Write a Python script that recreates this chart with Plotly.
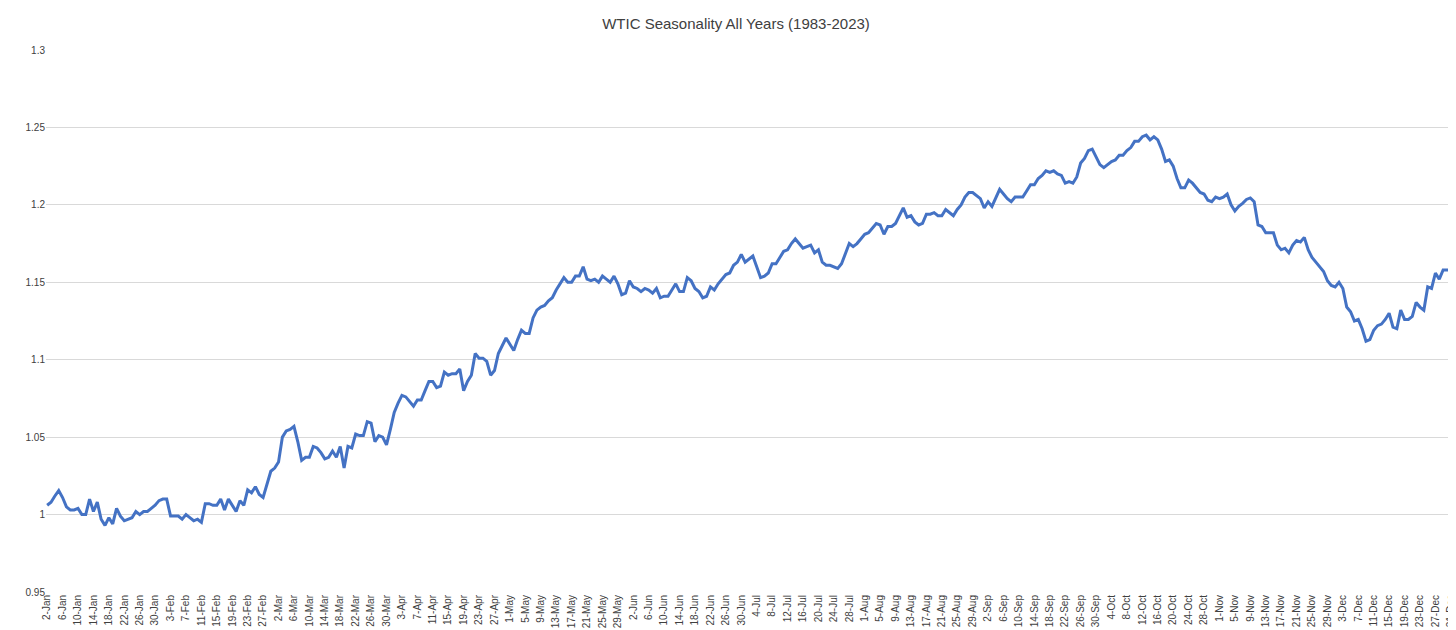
import pandas as pd
import plotly.graph_objects as go

dates = pd.date_range("2024-01-02", "2024-12-31", freq="D")
categories = [f"{d.day}-{d.strftime('%b')}" for d in dates]

values = [
1.006,1.008,1.012,1.0155,1.011,1.005,1.003,1.003,1.004,1.000,
1.000,1.010,1.002,1.008,0.997,0.993,0.998,0.994,1.004,0.999,
0.996,0.997,0.998,1.002,1.000,1.002,1.002,1.004,1.006,1.009,
1.010,1.010,0.999,0.999,0.999,0.997,1.000,0.998,0.996,0.997,
0.995,1.007,1.007,1.006,1.006,1.010,1.003,1.010,1.006,1.002,
1.009,1.006,1.016,1.014,1.018,1.013,1.011,1.019,1.028,1.030,
1.034,1.050,1.054,1.055,1.057,1.047,1.035,1.037,1.037,1.044,
1.043,1.040,1.036,1.037,1.041,1.037,1.044,1.030,1.044,1.043,
1.052,1.051,1.051,1.060,1.059,1.047,1.051,1.050,1.045,1.055,
1.066,1.072,1.077,1.076,1.073,1.070,1.074,1.074,1.080,1.086,
1.086,1.082,1.083,1.092,1.090,1.091,1.091,1.094,1.080,1.086,
1.090,1.104,1.101,1.101,1.099,1.090,1.093,1.104,1.109,1.114,
1.110,1.106,1.113,1.119,1.117,1.117,1.127,1.132,1.134,1.135,
1.138,1.140,1.145,1.149,1.153,1.150,1.150,1.154,1.154,1.160,
1.152,1.151,1.152,1.150,1.154,1.152,1.150,1.154,1.149,1.142,
1.143,1.151,1.147,1.146,1.144,1.146,1.145,1.143,1.146,1.140,
1.141,1.141,1.145,1.149,1.144,1.144,1.153,1.151,1.146,1.144,
1.140,1.141,1.147,1.145,1.149,1.152,1.155,1.156,1.161,1.163,
1.168,1.163,1.165,1.167,1.160,1.153,1.154,1.156,1.162,1.162,
1.166,1.170,1.171,1.175,1.178,1.175,1.172,1.173,1.174,1.169,
1.171,1.163,1.161,1.161,1.160,1.159,1.162,1.168,1.175,1.173,
1.175,1.178,1.181,1.182,1.185,1.188,1.187,1.181,1.186,1.186,
1.188,1.193,1.198,1.192,1.193,1.189,1.187,1.188,1.194,1.194,
1.195,1.193,1.193,1.197,1.195,1.193,1.197,1.200,1.205,1.208,
1.208,1.206,1.204,1.198,1.202,1.199,1.205,1.210,1.207,1.204,
1.202,1.205,1.205,1.205,1.209,1.213,1.213,1.217,1.219,1.222,
1.221,1.222,1.220,1.219,1.214,1.215,1.214,1.218,1.227,1.230,
1.235,1.236,1.231,1.226,1.224,1.226,1.228,1.229,1.232,1.232,
1.235,1.237,1.241,1.241,1.244,1.245,1.242,1.244,1.242,1.236,
1.228,1.229,1.225,1.217,1.211,1.211,1.216,1.214,1.211,1.208,
1.207,1.203,1.202,1.205,1.204,1.205,1.207,1.200,1.196,1.199,
1.201,1.2035,1.2045,1.202,1.187,1.186,1.182,1.182,1.182,1.174,
1.171,1.172,1.169,1.174,1.177,1.176,1.179,1.171,1.166,1.163,
1.160,1.157,1.151,1.148,1.147,1.150,1.146,1.134,1.131,1.125,
1.126,1.120,1.112,1.113,1.119,1.122,1.123,1.126,1.130,1.121,
1.120,1.132,1.126,1.126,1.128,1.137,1.134,1.132,1.147,1.146,
1.156,1.152,1.158,1.158,1.158,
]

tick_labels = categories[::4]
y_ticks = [0.95, 1.0, 1.05, 1.1, 1.15, 1.2, 1.25, 1.3]

fig = go.Figure(go.Scatter(x=categories, y=values, mode="lines",
                           line=dict(color="#4472C4", width=3)))
fig.update_layout(
    width=1456, height=630,
    margin=dict(l=38, r=8, t=42, b=46),
    plot_bgcolor="white", paper_bgcolor="white",
    title=dict(text="WTIC Seasonality All Years (1983-2023)", x=0.5, y=0.975,
               xanchor="center", yanchor="middle",
               font=dict(family="Liberation Sans, Arial", size=15, color="#404040")),
    showlegend=False,
    font=dict(family="Liberation Sans, Arial", color="#404040"),
)
fig.update_xaxes(type="category", tickmode="array", tickvals=tick_labels, ticktext=tick_labels,
                 tickangle=-90, tickfont=dict(size=10), showgrid=False,
                 range=[-0.3, len(categories) - 0.7], ticks="")
fig.update_yaxes(range=[0.95, 1.3], tickmode="array", tickvals=y_ticks,
                 ticktext=[f"{v:g}" for v in y_ticks],
                 gridcolor="#d9d9d9", gridwidth=1, zeroline=False,
                 tickfont=dict(size=10), ticks="")
fig.write_html("out.html")
